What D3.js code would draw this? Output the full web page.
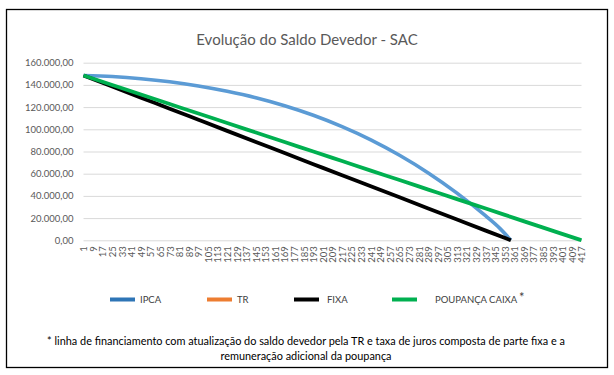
<!DOCTYPE html>
<html>
<head>
<meta charset="utf-8">
<script src="https://cdn.jsdelivr.net/npm/d3@7"></script>
<style>
  body { margin: 0; background: #fff; }
  text { font-family: Lato, "Open Sans", sans-serif; }
</style>
</head>
<body>
<svg id="chart" width="614" height="375"></svg>
<script>
var ipcaMonths = [1,25,49,73,97,121,145,169,193,217,241,265,289,313,337,349,358];
var ipcaValues = [148500,147500,145600,142800,139000,134200,128400,121200,112600,102400,90500,76600,60700,42500,21900,10500,0];

var fixaMonths = [1,25,49,73,97,121,145,169,193,217,241,265,289,313,337,358];
var fixaValues = [148500,138500,128500,118600,108600,98600,88600,78600,68600,58600,48700,38700,28700,18700,8700,0];

var poupMonths = [1,25,49,73,97,121,145,169,193,217,241,265,289,313,337,361,385,409,417];
var poupValues = [148500,139900,131400,122800,114200,105700,97100,88500,80000,71400,62800,54300,45700,37100,28600,20000,11400,2900,0];

// TR is in the legend but no line of it is visible
var trMonths = [];
var trValues = [];

var seriesNames = ["IPCA", "TR", "FIXA", "POUPANÇA CAIXA"];
var yTicks = [0,20000,40000,60000,80000,100000,120000,140000,160000];
var xTickLabels = d3.range(1, 418, 8);   // 1, 9, 17 ... 417

var title = "Evolução do Saldo Devedor - SAC";
var note1 = "* linha de financiamento com atualização do saldo devedor pela TR e taxa de juros composta de parte fixa e a";
var note2 = "remuneração adicional da poupança";

var svg = d3.select("#chart");

// outer frame
svg.append("rect").attr("x",6.5).attr("y",9.5).attr("width",601).attr("height",358)
  .attr("fill","none").attr("stroke","#000").attr("stroke-width",1.3);

svg.append("text").attr("x",307).attr("y",45).attr("text-anchor","middle")
  .attr("font-size",15).attr("fill","#595959").text(title);

var x = d3.scaleLinear().domain([1,417]).range([83.5,581.5]);
var y = d3.scaleLinear().domain([0,160000]).range([240.3,62.7]);

var br = d3.formatLocale({decimal:",", thousands:".", grouping:[3], currency:["R$",""]});
var fmt = br.format(",.2f");

// gridlines + y labels
var yAxis = d3.axisLeft(y).tickValues(yTicks).tickFormat(fmt).tickSize(-(581.5-83.5)).tickPadding(10);
var gy = svg.append("g").attr("transform","translate(83.5,0)").call(yAxis);
gy.select(".domain").remove();
gy.selectAll(".tick line").attr("stroke","#d9d9d9");
gy.selectAll(".tick text").attr("fill","#595959").attr("font-size",9.5)
  .style("font-family","Lato, sans-serif");

// x labels, rotated
var xAxis = d3.axisBottom(x).tickValues(xTickLabels).tickFormat(d3.format("d")).tickSize(0);
var gx = svg.append("g").attr("transform","translate(0,240.3)").call(xAxis);
gx.select(".domain").remove();
gx.selectAll(".tick text")
  .attr("fill","#595959").attr("font-size",9.5)
  .style("font-family","Lato, sans-serif")
  .attr("text-anchor","end").attr("dy","0.35em")
  .attr("transform","translate(0,6) rotate(-90)")
  .attr("x",0).attr("y",0);

var line = d3.line().x(function(d){return x(d[0]);}).y(function(d){return y(d[1]);})
  .curve(d3.curveMonotoneX);

function drawSeries(months, values, color, width){
  if (!months.length) return;
  var pts = d3.zip(months, values);
  svg.append("path").datum(pts).attr("d", line)
    .attr("fill","none").attr("stroke",color).attr("stroke-width",width)
    .attr("stroke-linejoin","round");
}
drawSeries(ipcaMonths, ipcaValues, "#5b9bd5", 3.6);
drawSeries(trMonths, trValues, "#ed7d31", 3.6);
drawSeries(fixaMonths, fixaValues, "#000000", 3.8);
drawSeries(poupMonths, poupValues, "#00b050", 3.8);

// legend
var legendColors = ["#2e75b6", "#ed7d31", "#000000", "#00b050"];
var legendX = [110, 207, 294, 392];
var legendTextX = [140, 237, 327, 435];
var lg = svg.append("g");
seriesNames.forEach(function(name, i){
  lg.append("rect").attr("x",legendX[i]).attr("y",297.5).attr("width",25).attr("height",4)
    .attr("fill",legendColors[i]);
  lg.append("text").attr("x",legendTextX[i]).attr("y",302.5).attr("font-size",9.5)
    .attr("fill","#404040").text(name);
});
lg.append("text").attr("x",519).attr("y",302).attr("font-size",13).attr("fill","#404040").text("*");

// footnote
svg.append("text").attr("x",306).attr("y",345).attr("text-anchor","middle")
  .attr("font-size",10.9).attr("fill","#000").text(note1);
svg.append("text").attr("x",306).attr("y",360).attr("text-anchor","middle")
  .attr("font-size",10.9).attr("fill","#000").text(note2);
</script>
</body>
</html>
